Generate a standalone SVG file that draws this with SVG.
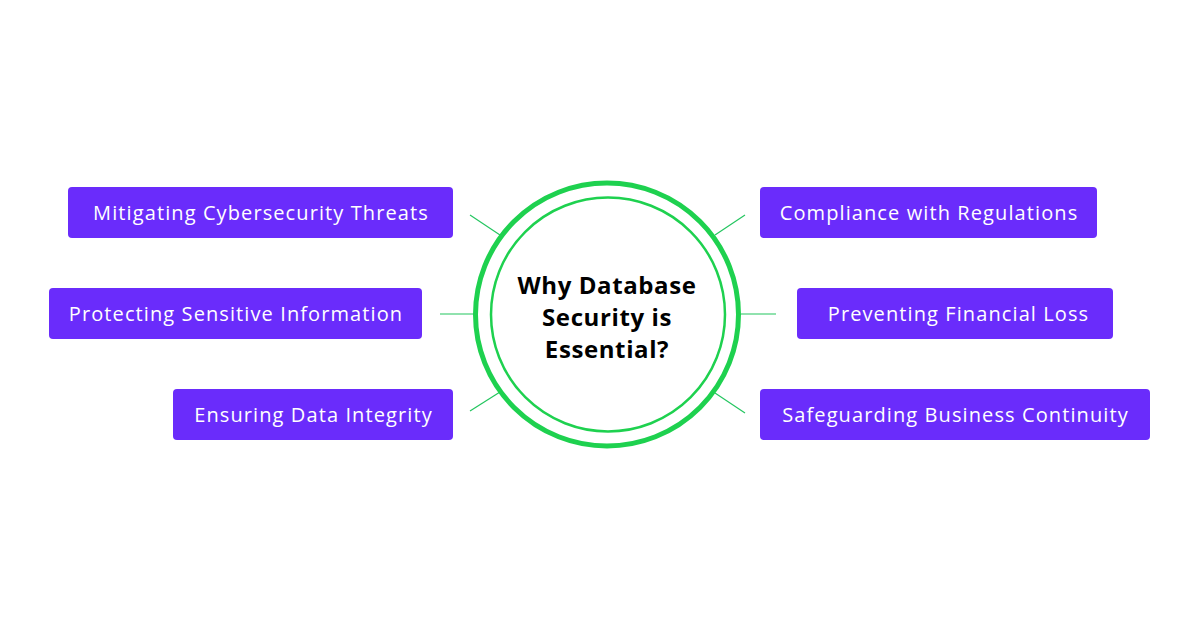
<svg xmlns="http://www.w3.org/2000/svg" width="1200" height="628" viewBox="0 0 1200 628">
<style>
.box{fill:#6a2cfb}
.lbl{font-family:"Open Sans","Liberation Sans",sans-serif;font-size:20px;letter-spacing:1.1px;fill:#ffffff;text-anchor:middle;dominant-baseline:central}
.conn line{stroke:#22c55e;stroke-width:1.2}
.title{font-family:"Open Sans","Liberation Sans",sans-serif;font-size:24px;letter-spacing:0.6px;font-weight:700;fill:#000;text-anchor:middle}
</style>
<rect width="1200" height="628" fill="#ffffff"/>
<g id="connectors" class="conn">
<line x1="470" y1="215" x2="500" y2="235"/>
<line x1="440" y1="314" x2="474" y2="314"/>
<line x1="470" y1="411" x2="500" y2="392"/>
<line x1="745" y1="215" x2="715" y2="235"/>
<line x1="741" y1="314" x2="776" y2="314"/>
<line x1="745" y1="413" x2="715" y2="393"/>
</g>
<g id="center">
<circle cx="607" cy="314.5" r="131.5" fill="#ffffff" stroke="#1ed14f" stroke-width="5"/>
<circle cx="608" cy="314.5" r="117" fill="none" stroke="#1ed14f" stroke-width="2.5"/>
<text class="title" x="607" y="294">Why Database</text>
<text class="title" x="607" y="326">Security is</text>
<text class="title" x="607" y="358">Essential?</text>
</g>
<g id="n1"><rect class="box" x="68" y="187" width="385" height="51" rx="4"/><text class="lbl" x="261" y="212.5">Mitigating Cybersecurity Threats</text></g>
<g id="n2"><rect class="box" x="49" y="288" width="373" height="51" rx="4"/><text class="lbl" x="236" y="313.5">Protecting Sensitive Information</text></g>
<g id="n3"><rect class="box" x="173" y="389" width="280" height="51" rx="4"/><text class="lbl" x="313.5" y="414.5">Ensuring Data Integrity</text></g>
<g id="n4"><rect class="box" x="760" y="187" width="337" height="51" rx="4"/><text class="lbl" x="929" y="212.5">Compliance with Regulations</text></g>
<g id="n5"><rect class="box" x="797" y="288" width="316" height="51" rx="4"/><text class="lbl" x="958.5" y="313.5">Preventing Financial Loss</text></g>
<g id="n6"><rect class="box" x="760" y="389" width="390" height="51" rx="4"/><text class="lbl" x="955.5" y="414.5">Safeguarding Business Continuity</text></g>
</svg>
